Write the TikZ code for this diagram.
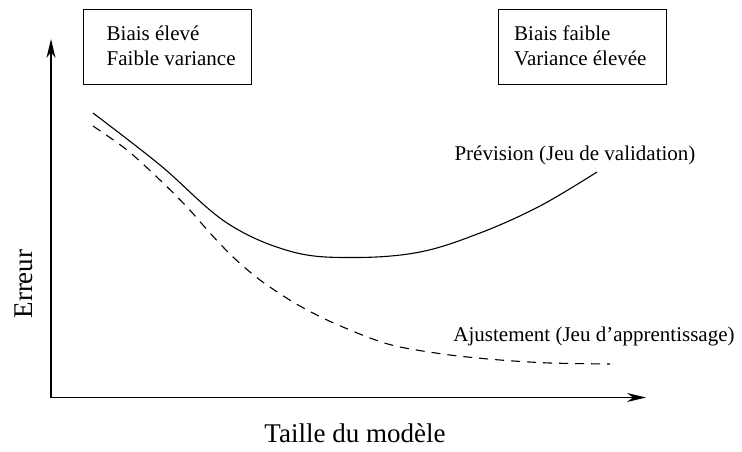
\documentclass[tikz,border=0pt]{standalone}
\usepackage{fontspec}
\setmainfont{Liberation Serif}
\usetikzlibrary{arrows.meta}
\begin{document}
\begin{tikzpicture}[x=1pt,y=-1pt,
  axis/.style={line width=1.3pt,-{Stealth[length=19pt,width=9pt,inset=6pt]}},
  infobox/.style={draw,line width=1pt,minimum width=168pt,minimum height=75pt,inner sep=0pt},
  boxtext/.style={anchor=west,inner sep=0pt,align=left,font=\fontsize{21}{25}\selectfont},
  curvelabel/.style={font=\fontsize{21}{24}\selectfont},
  axislabel/.style={font=\fontsize{27}{30}\selectfont}]
\useasboundingbox (0,0) rectangle (742,451);
\coordinate (O) at (51,397.5);
\coordinate (ytip) at (51,39);
\coordinate (xtip) at (646,397.5);
\draw[axis] (O) -- (ytip);
\draw[axis] (O) -- (xtip);
\node[infobox] (b1) at (167,46.5) {};
\node[boxtext] (t1) at ([xshift=24pt,yshift=1pt]b1.west) {Biais élevé\\Faible variance};
\node[infobox] (b2) at (582.5,46.5) {};
\node[boxtext] (t2) at ([xshift=16pt,yshift=1pt]b2.west) {Biais faible\\Variance élevée};
\node[curvelabel] (prev) at (575,155) {Prévision (Jeu de validation)};
\node[curvelabel] (ajust) at (594,336) {Ajustement (Jeu d’apprentissage)};
\node[axislabel,rotate=90] (err) at (24,284) {Erreur};
\node[axislabel] (taille) at (355,433) {Taille du modèle};
\draw[line width=1.1pt] plot[smooth,tension=0.6] coordinates {(93,113) (160,165) (227,223) (293,252) (355,257.5) (420,252) (480,233) (540,206) (597,172)};
\draw[line width=1.1pt,dash pattern=on 9pt off 7pt] plot[smooth,tension=0.5] coordinates {(93,126) (127,150) (160,180) (187,207) (210,233) (233,257) (260,280) (293,302) (327,320) (370,338) (400,347) (450,355) (500,360) (550,363) (610,364)};
\end{tikzpicture}
\end{document}
